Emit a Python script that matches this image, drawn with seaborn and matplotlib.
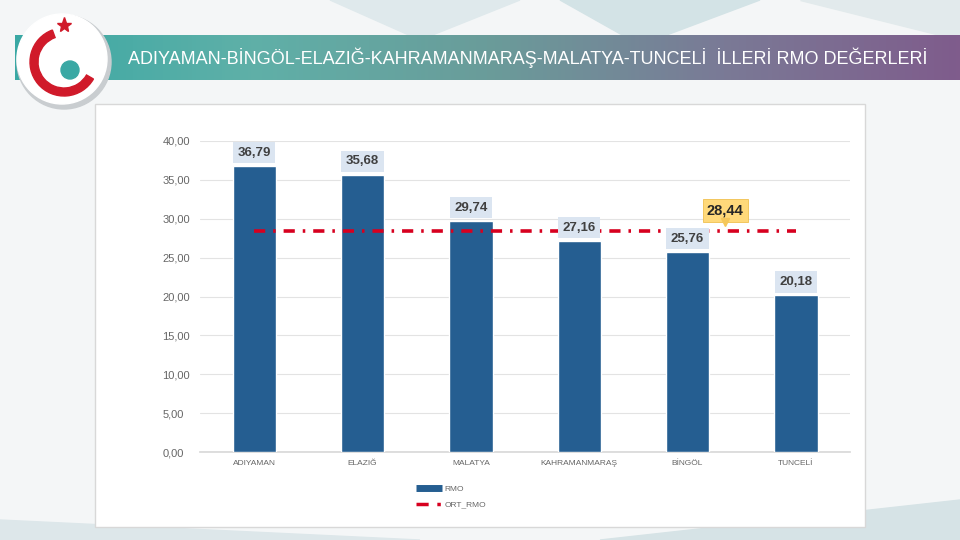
import numpy as np
import matplotlib
matplotlib.use("Agg")
import matplotlib.pyplot as plt
import seaborn as sns
from matplotlib.patches import Rectangle, Circle, Wedge, Polygon
from matplotlib.lines import Line2D
from matplotlib.colors import LinearSegmentedColormap

# data
provinces = ["ADIYAMAN", "ELAZIĞ", "MALATYA", "KAHRAMANMARAŞ", "BİNGÖL", "TUNCELİ"]
rmo = [36.79, 35.68, 29.74, 27.16, 25.76, 20.18]
ort_rmo = 28.44
yticks = [0, 5, 10, 15, 20, 25, 30, 35, 40]

title = "ADIYAMAN-BİNGÖL-ELAZIĞ-KAHRAMANMARAŞ-MALATYA-TUNCELİ  İLLERİ RMO DEĞERLERİ"

bar_color = "#255e91"
line_color = "#d7001f"


def tr(v):
    return f"{v:.2f}".replace(".", ",")


sns.set_theme(style="white")
plt.rcParams["font.family"] = ["Liberation Sans", "DejaVu Sans"]

fig = plt.figure(figsize=(9.6, 5.4), dpi=100)
fig.patch.set_facecolor("#f4f6f7")

# background decoration
bg = fig.add_axes([0, 0, 1, 1])
bg.set_xlim(0, 960)
bg.set_ylim(540, 0)
bg.axis("off")
for pts, c in [
    ([(330, 0), (520, 0), (420, 40)], "#dfe9ec"),
    ([(560, 0), (760, 0), (640, 45)], "#d3e3e6"),
    ([(800, 0), (960, 0), (960, 40)], "#e2eaec"),
    ([(0, 520), (420, 540), (0, 540)], "#dde7ea"),
    ([(600, 540), (960, 500), (960, 540)], "#d6e3e6"),
]:
    bg.add_patch(Polygon(pts, closed=True, color=c, zorder=0))

# header gradient band
grad = np.linspace(0, 1, 256).reshape(1, -1)
cmap = LinearSegmentedColormap.from_list(
    "hdr", ["#3aa8a4", "#5fb0a8", "#6a9c9a", "#7a7a96", "#7f5c8c"])
bg.imshow(grad, cmap=cmap, extent=[15, 960, 80, 35], aspect="auto", zorder=1)
bg.set_xlim(0, 960)
bg.set_ylim(540, 0)
bg.text(128, 58, title, color="white", fontsize=13, va="center", ha="left", zorder=3)

# logo
bg.add_patch(Circle((64, 62), 47, color="#c9cdd0", zorder=3))
bg.add_patch(Circle((62, 59), 45, color="white", zorder=4))
bg.add_patch(Wedge((64, 62), 34, 30, 250, width=8, color="#d01a2a", zorder=5))
bg.add_patch(Circle((70, 70), 9, color="#3aa8a4", zorder=5))
bg.plot([64], [25], marker="*", color="#d01a2a", markersize=11, zorder=6)

# chart panel
bg.add_patch(Rectangle((95, 104), 770, 423, facecolor="white", edgecolor="#d8d8d8", lw=1, zorder=2))

ax = fig.add_axes([200 / 960, 1 - 452 / 540, 650 / 960, 311 / 540])
ax.set_facecolor("white")

sns.barplot(x=provinces, y=rmo, color=bar_color, width=0.4, saturation=1, ax=ax, zorder=3)
ax.plot(np.arange(len(provinces)), [ort_rmo] * len(provinces), color=line_color, lw=2.6,
        dashes=(3.1, 2.2, 0.7, 2.2), zorder=4)

ax.set_xlim(-0.5, len(provinces) - 0.5)
ax.set_ylim(0, 40)
ax.set_yticks(yticks)
ax.set_yticklabels([tr(v) for v in yticks], color="#666666", fontsize=8)
ax.tick_params(axis="x", colors="#666666", labelsize=6, length=0, pad=6)
ax.tick_params(axis="y", length=0, pad=27)
for lbl in ax.get_yticklabels():
    lbl.set_ha("left")
ax.yaxis.grid(True, color="#e3e3e3", lw=0.8, zorder=0)
for s in ["top", "right", "left"]:
    ax.spines[s].set_visible(False)
ax.spines["bottom"].set_color("#d9d9d9")

for i, v in enumerate(rmo):
    ax.annotate(tr(v), (i, v), xytext=(0, 9.5), textcoords="offset points",
                ha="center", va="center", fontsize=9.5, fontweight="bold", color="#404040",
                bbox=dict(boxstyle="square,pad=0.35", fc="#dbe5f1", ec="none"), zorder=5)

ax.annotate(tr(ort_rmo), (4.35, ort_rmo), xytext=(0, 14.5), textcoords="offset points",
            ha="center", va="center", fontsize=10.5, fontweight="bold", color="#262626",
            bbox=dict(boxstyle="square,pad=0.3", fc="#ffd97a", ec="#f0c050", lw=0.6), zorder=6)
ax.plot([4.35], [ort_rmo + 1.1], marker="v", color="#f5c75a", markersize=6, zorder=7)

handles = [
    Line2D([0], [0], color=bar_color, lw=5, solid_capstyle="butt"),
    Line2D([0], [0], color=line_color, lw=2.5, dashes=(3.5, 2.5, 1, 4)),
]
fig.legend(handles, ["RMO", "ORT_RMO"], loc="upper left", bbox_to_anchor=(408 / 960, 1 - 478 / 540),
           frameon=False, fontsize=6, labelcolor="#666666", handlelength=3.2,
           handletextpad=0.3, labelspacing=0.9)

fig.savefig("out.png", dpi=100, facecolor=fig.get_facecolor())
